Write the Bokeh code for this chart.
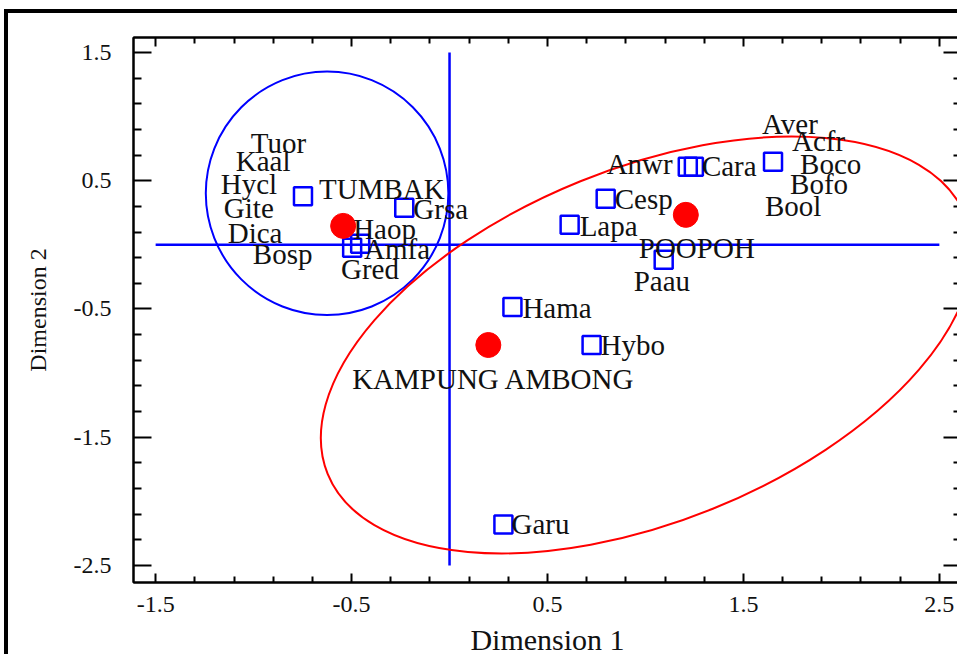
from bokeh.plotting import figure
from bokeh.models import Range1d, LinearAxis, FixedTicker, ColumnDataSource, CustomJSTickFormatter
from bokeh.core.properties import value
from bokeh.embed import file_html
from bokeh.resources import INLINE

# ---- data ----
# variable categories (open blue squares)
var_x = [-0.748, -0.231, -0.497, -0.456, 1.216, 1.247, 1.651, 0.797, 0.613, 1.093, 0.321, 0.725, 0.275]
var_y = [0.379, 0.289, -0.023, 0.008, 0.609, 0.609, 0.648, 0.359, 0.156, -0.117, -0.484, -0.781, -2.180]

# sites (red dots)
site_names = ["TUMBAK", "POOPOH", "KAMPUNG AMBONG"]
site_x = [-0.543, 1.206, 0.198]
site_y = [0.148, 0.234, -0.781]

# text labels
labels = ["Tuor", "Kaal", "Hycl", "Gite", "Dica", "Bosp", "TUMBAK", "Grsa", "Haop", "Amfa", "Gred",
          "Aver", "Acfr", "Anwr", "Cara", "Boco", "Bofo", "Bool", "Cesp", "Lapa", "POOPOH", "Paau",
          "Hama", "Hybo", "KAMPUNG AMBONG", "Garu"]
label_x = [-1.014, -1.091, -1.168, -1.152, -1.132, -1.004, -0.666, -0.185, -0.492, -0.436, -0.554,
           1.595, 1.748, 0.802, 1.288, 1.789, 1.738, 1.610, 0.843, 0.664, 0.966, 0.940,
           0.372, 0.771, -0.497, 0.316]
label_y = [0.797, 0.656, 0.477, 0.289, 0.094, -0.070, 0.438, 0.281, 0.125, -0.031, -0.188,
           0.945, 0.813, 0.633, 0.617, 0.633, 0.477, 0.305, 0.359, 0.148, -0.023, -0.281,
           -0.492, -0.781, -1.047, -2.180]

# group ellipses: center x, center y, width, height (data units), angle (radians)
ell_x = [-0.625, 1.006]
ell_y = [0.402, -0.781]
ell_w = [1.238, 3.512]
ell_h = [1.898, 2.755]
ell_angle = [0.0, 0.384]
ell_color = ["#0000ff", "#ff0000"]

# axis ticks
major_ticks_x = [-1.5, -0.5, 0.5, 1.5, 2.5]
minor_ticks_x = [-1.3, -1.1, -0.9, -0.7, -0.3, -0.1, 0.1, 0.3, 0.7, 0.9, 1.1, 1.3, 1.7, 1.9, 2.1, 2.3]
major_ticks_y = [1.5, 0.5, -0.5, -1.5, -2.5]
minor_ticks_y = [1.3, 1.1, 0.9, 0.7, 0.3, 0.1, -0.1, -0.3, -0.7, -0.9, -1.1, -1.3, -1.7, -1.9, -2.1, -2.3]

FONT = "Liberation Serif"

p = figure(width=953, height=645,
           x_range=Range1d(-1.613, 2.613), y_range=Range1d(-2.633, 1.617),
           output_backend="svg", toolbar_location=None,
           min_border_left=125, min_border_right=0, min_border_top=24, min_border_bottom=70)
p.styles = {"border-left": "4px solid black", "border-top": "4px solid black",
            "margin-left": "4px", "margin-top": "9px"}
p.xgrid.visible = False
p.ygrid.visible = False
p.outline_line_color = "black"
p.outline_line_width = 2
p.background_fill_color = "white"
p.border_fill_color = "white"

xt = FixedTicker(ticks=major_ticks_x, minor_ticks=minor_ticks_x)
yt = FixedTicker(ticks=major_ticks_y, minor_ticks=minor_ticks_y)
num_fmt = "return tick.toFixed(1)"

def style_axis(ax, ticker, maj_len, min_len, font_size):
    ax.ticker = ticker
    ax.axis_line_width = 2
    ax.axis_line_color = "black"
    ax.major_tick_in = maj_len
    ax.major_tick_out = 0
    ax.minor_tick_in = min_len
    ax.minor_tick_out = 0
    ax.major_tick_line_width = 2
    ax.minor_tick_line_width = 2
    ax.major_tick_line_color = "black"
    ax.minor_tick_line_color = "black"
    ax.major_label_text_font = FONT
    ax.major_label_text_font_size = font_size
    ax.major_label_text_color = "#111111"

xa = p.xaxis[0]
style_axis(xa, xt, 9, 6, "24px")
xa.formatter = CustomJSTickFormatter(code=num_fmt)
xa.major_label_standoff = 14
xa.axis_label = "Dimension 1"
xa.axis_label_text_font = FONT
xa.axis_label_text_font_size = "30px"
xa.axis_label_text_font_style = "normal"
xa.axis_label_text_color = "#111111"
xa.axis_label_standoff = 8

ya = p.yaxis[0]
style_axis(ya, yt, 18, 8, "24px")
ya.formatter = CustomJSTickFormatter(code=num_fmt)
ya.major_label_standoff = 22
ya.major_label_orientation = "horizontal"
ya.axis_label = "Dimension 2"
ya.axis_label_text_font = FONT
ya.axis_label_text_font_size = "24px"
ya.axis_label_text_font_style = "normal"
ya.axis_label_text_color = "#111111"
ya.axis_label_standoff = 20

top = LinearAxis(formatter=CustomJSTickFormatter(code="return ''"), major_label_standoff=0)
style_axis(top, FixedTicker(ticks=major_ticks_x, minor_ticks=minor_ticks_x), 9, 6, "1px")
p.add_layout(top, "above")
right = LinearAxis(formatter=CustomJSTickFormatter(code="return ''"), major_label_standoff=0)
style_axis(right, FixedTicker(ticks=major_ticks_y, minor_ticks=minor_ticks_y), 18, 8, "1px")
p.add_layout(right, "right")

# reference axes through origin
p.segment(x0=[major_ticks_x[0], 0], y0=[0, major_ticks_y[0]],
          x1=[major_ticks_x[-1], 0], y1=[0, major_ticks_y[-1]],
          line_color="#0000ff", line_width=2.5)

# group ellipses
p.ellipse(x=ell_x, y=ell_y, width=ell_w, height=ell_h, angle=ell_angle,
          fill_color=None, line_color=ell_color, line_width=2)

# variable categories
p.scatter(x=var_x, y=var_y, marker="square", size=18, fill_color=None,
          line_color="#0000ff", line_width=2.5)

# sites
p.scatter(x=site_x, y=site_y, marker="circle", size=25, fill_color="#ff0000", line_color="#ff0000")

# labels
src = ColumnDataSource(dict(x=label_x, y=label_y, t=labels))
p.text(x="x", y="y", text="t", source=src, text_font=value(FONT), text_font_size="29px",
       text_baseline="middle", text_align="left", text_color="#111111")

open("out.html", "w").write(file_html(p, INLINE))
